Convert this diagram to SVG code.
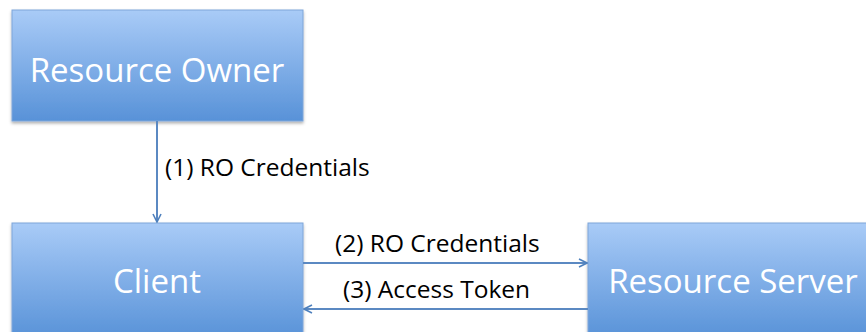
<svg xmlns="http://www.w3.org/2000/svg" width="866" height="332" viewBox="0 0 866 332">
<defs>
<linearGradient id="g" x1="0" y1="0" x2="0" y2="1">
<stop offset="0" stop-color="#a9cbf7"/>
<stop offset="1" stop-color="#5892d8"/>
</linearGradient>
<filter id="sh" x="-5%" y="-5%" width="110%" height="115%">
<feDropShadow dx="0" dy="2" stdDeviation="1.5" flood-color="#000" flood-opacity="0.3"/>
</filter>
<marker id="ah" viewBox="0 0 10 10" refX="9" refY="5" markerWidth="10" markerHeight="10" markerUnits="userSpaceOnUse" orient="auto">
<path d="M1,1 L9,5 L1,9" fill="none" stroke="#4f81bd" stroke-width="1.6"/>
</marker>
<style>
.box{fill:url(#g);stroke:#7ea6d9;stroke-width:1;filter:url(#sh)}
.bt{font-family:"Open Sans","Liberation Sans",sans-serif;font-size:33px;fill:#fff;text-anchor:middle}
.lt{font-family:"Open Sans","Liberation Sans",sans-serif;font-size:24.5px;fill:#000}
.cn{stroke:#5b89c2;stroke-width:2;fill:none;marker-end:url(#ah)}
</style>
</defs>
<rect width="866" height="332" fill="#fff"/>
<g id="resource-owner">
<rect class="box" x="12" y="10" width="291" height="111"/>
<text class="bt" x="157" y="82">Resource Owner</text>
</g>
<g id="client">
<rect class="box" x="12" y="223" width="291" height="115"/>
<text class="bt" x="157" y="293">Client</text>
</g>
<g id="resource-server">
<rect class="box" x="588" y="223" width="290" height="115"/>
<text class="bt" x="733" y="293">Resource Server</text>
</g>
<g id="connectors">
<line class="cn" x1="157" y1="121" x2="157" y2="222"/>
<line class="cn" x1="303" y1="263" x2="587" y2="263"/>
<line class="cn" x1="588" y1="309" x2="304" y2="309"/>
</g>
<g id="labels">
<text class="lt" x="165" y="176">(1) RO Credentials</text>
<text class="lt" x="335" y="252">(2) RO Credentials</text>
<text class="lt" x="343" y="298">(3) Access Token</text>
</g>
</svg>
